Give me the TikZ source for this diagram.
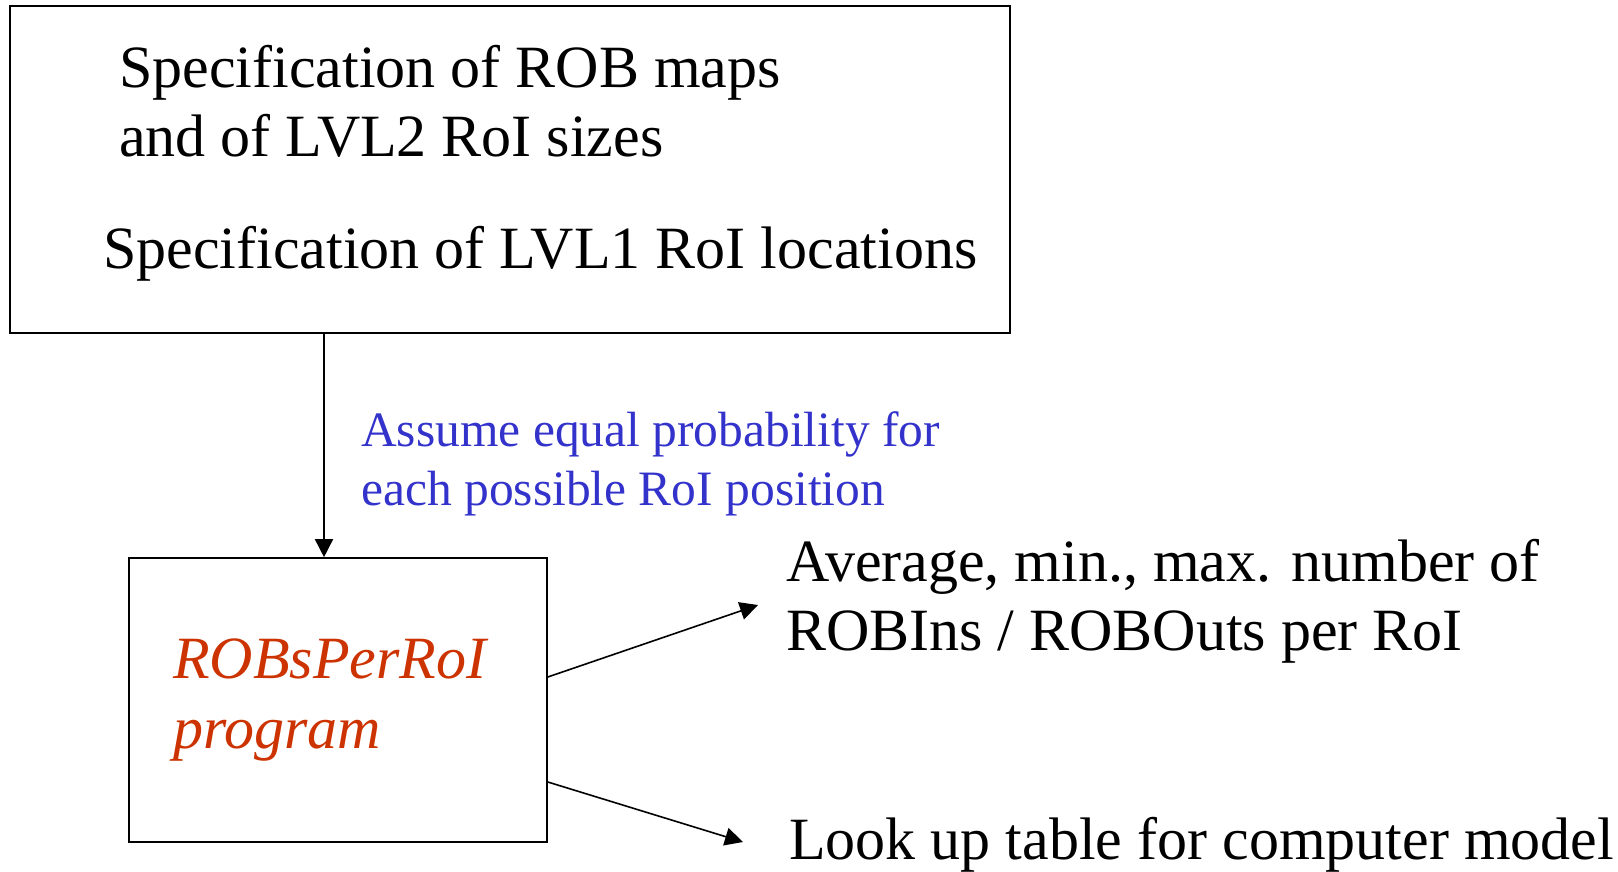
\documentclass[tikz,border=0pt]{standalone}
\usepackage{fontspec}
\setmainfont{Liberation Serif}
\usetikzlibrary{arrows.meta}
\definecolor{progred}{HTML}{CC3300}
\definecolor{noteblue}{HTML}{3333CC}
\tikzset{
  box/.style={draw, line width=1.6pt, rectangle, inner sep=0pt},
  txt/.style={anchor=base west, inner sep=0pt, align=left, font=\fontsize{60}{69}\selectfont},
  note/.style={anchor=base west, inner sep=0pt, align=left, text=noteblue, font=\fontsize{49.5}{59}\selectfont},
  prog/.style={anchor=base west, inner sep=0pt, align=left, text=progred, font=\fontsize{60}{70}\selectfont\itshape},
  conn/.style={line width=1.6pt, -{Triangle[length=18pt,width=18pt]}}
}
\begin{document}
\begin{tikzpicture}[x=1pt,y=-1pt]
\useasboundingbox (0,0) rectangle (1618,872);
\node[box, minimum width=1000pt, minimum height=327pt] (top) at (510,169.5) {};
\node[box, minimum width=418pt, minimum height=284pt] (bot) at (338,700) {};
\node[txt] (t1) at (119,157) {Specification of ROB maps\\and of LVL2 RoI sizes};
\node[txt] (t2) at (103,268) {Specification of LVL1 RoI locations};
\node[note] (n1) at (361,505) {Assume equal probability for\\each possible RoI position};
\node[prog] (p1) at (173,748) {ROBsPerRoI\\program};
\node[txt] (o1) at (786,650) {Average, min., max. number of\\ROBIns / ROBOuts per RoI};
\node[txt] (o2) at (789,859) {Look up table for computer model};
\coordinate (vx) at (324,0);
\coordinate (a1) at (758,605);
\coordinate (a2) at (743,842);
\draw[conn] (top.south -| vx) -- (bot.north -| vx);
\draw[conn] ([yshift=23pt]bot.east) -- (a1);
\draw[conn] ([yshift=-82pt]bot.east) -- (a2);
\end{tikzpicture}
\end{document}
